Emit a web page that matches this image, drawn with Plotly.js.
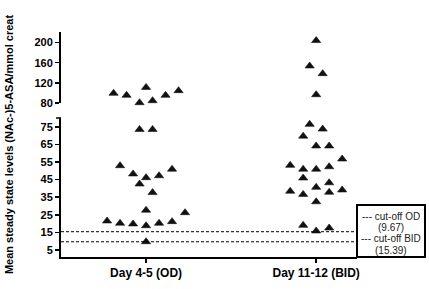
<!DOCTYPE html>
<html><head><meta charset="utf-8">
<script src="https://cdn.plot.ly/plotly-3.0.1.min.js"></script>
<style>html,body{margin:0;padding:0;background:#fff}#chart{width:429px;height:289px}</style>
</head><body><div id="chart"></div>
<script>
const categories = ['Day 4-5 (OD)', 'Day 11-12 (BID)'];
// Day 4-5 (OD) values and horizontal column slot of each triangle
const odValues = [99.3, 95.3, 111, 80.6, 84.6, 95.3, 104.5, 73.5, 73.5, 52.9, 48.2, 46.1, 47.2, 50.9, 42.5, 37.6, 27.6, 26.2, 21.5, 20.2, 19.8, 18.8, 20.2, 21.1, 9.7];
const odSlots  = [-5, -3, 0, -1, 1, 3, 5, -1, 1, -4, -2, 0, 2, 4, -1, 1, 0, 6, -6, -4, -2, 0, 2, 4, 0];
// Day 11-12 (BID)
const bidValues = [204, 153.6, 138.3, 96.5, 76.4, 73.7, 69.7, 64.1, 64.1, 56.7, 53.1, 50.9, 50.9, 52.3, 45.9, 43.2, 40.6, 38.4, 36.6, 37.8, 39.1, 32.4, 19.0, 17.5, 15.8];
const bidSlots  = [0, -1, 1, 0, -1, 1, -2, 0, 2, 4, -4, -2, 0, 2, -2, 2, 0, -4, -2, 2, 4, 0, -2, 2, 0];
const cutoffOD = 9.67;
const cutoffBID = 15.39;
const breakAt = 80;
const lowerTicks = [5, 15, 25, 35, 45, 55, 65, 75];
const upperTicks = [80, 120, 160, 200];
const legendLines = ['--- cut-off OD', '(' + cutoffOD + ')', '--- cut-off BID', '(' + cutoffBID + ')'];

const slotWidth = 0.0382;
const lower = {x: [], y: []}, upper = {x: [], y: []};
[[odValues, odSlots], [bidValues, bidSlots]].forEach(([vals, slots], ci) => {
  vals.forEach((v, i) => {
    const t = v >= breakAt ? upper : lower;
    t.x.push(ci + slots[i] * slotWidth);
    t.y.push(v);
  });
});

const marker = {symbol: 'triangle-up', size: 8, color: '#111', line: {width: 0.6, color: '#111'}};
const traces = [
  {type: 'scatter', mode: 'markers', x: lower.x, y: lower.y, xaxis: 'x', yaxis: 'y', marker, cliponaxis: false, hoverinfo: 'skip'},
  {type: 'scatter', mode: 'markers', x: upper.x, y: upper.y, xaxis: 'x', yaxis: 'y2', marker, cliponaxis: false, hoverinfo: 'skip'}
];

const font = {family: 'Liberation Sans, Arial, sans-serif', color: '#000'};
const yCommon = {
  showline: true, linewidth: 2, linecolor: '#000', ticks: 'outside', ticklen: 4, tickwidth: 1.5, tickcolor: '#000',
  tickfont: Object.assign({size: 11, weight: 'bold'}, font), showgrid: false, zeroline: false, anchor: 'x', fixedrange: true
};
const dash = {color: '#000', width: 1, dash: '3px,2px'};
const layout = {
  width: 429, height: 289,
  margin: {l: 61, r: 72, t: 32, b: 32},
  paper_bgcolor: '#fff', plot_bgcolor: '#fff',
  showlegend: false,
  xaxis: {
    range: [-0.5, 1.24], tickvals: [0, 1], ticktext: categories,
    showline: true, linewidth: 2, linecolor: '#000', ticks: 'outside', ticklen: 4, tickwidth: 1.5, tickcolor: '#000',
    tickfont: Object.assign({size: 12, weight: 'bold'}, font), showgrid: false, zeroline: false, anchor: 'y', fixedrange: true
  },
  yaxis: Object.assign({domain: [0, 0.6178], range: [1.02, 80], tickvals: lowerTicks}, yCommon),
  yaxis2: Object.assign({domain: [0.6844, 1], range: [80, 221], tickvals: upperTicks}, yCommon),
  shapes: [
    {type: 'line', xref: 'paper', yref: 'y', x0: 0, x1: 1, y0: cutoffBID, y1: cutoffBID, line: dash},
    {type: 'line', xref: 'paper', yref: 'y', x0: 0, x1: 1, y0: cutoffOD, y1: cutoffOD, line: dash},
    {type: 'line', xref: 'paper', yref: 'paper', x0: -0.017, x1: 0, y0: 0.6178, y1: 0.6178, line: {color: '#000', width: 1.5}},
    {type: 'rect', xref: 'paper', yref: 'paper', x0: 1, x1: 1.2297, y0: 0, y1: 0.2311, line: {color: '#000', width: 2}}
  ],
  annotations: [
    {xref: 'paper', yref: 'paper', x: -0.177, y: 0.5, xanchor: 'center', yanchor: 'middle', textangle: -90, showarrow: false,
     text: '<b>Mean steady state levels (NAc-)5-ASA/mmol creat</b>', font: Object.assign({size: 11}, font)}
  ].concat(legendLines.map((t, i) => ({
    xref: 'paper', yref: 'paper', x: 1.115, y: [0.182, 0.129, 0.083, 0.031][i], xanchor: 'center', yanchor: 'middle',
    showarrow: false, text: t, font: {family: font.family, size: 10, color: '#222'}
  })))
};
Plotly.newPlot('chart', traces, layout, {staticPlot: true, displayModeBar: false});
</script></body></html>
